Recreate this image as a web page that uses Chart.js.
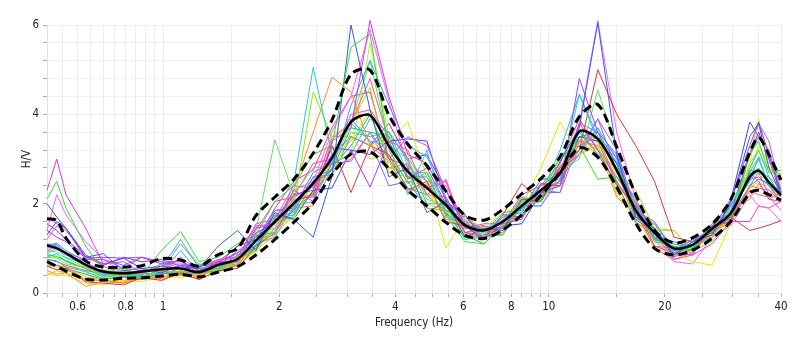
<!DOCTYPE html>
<html lang="en">
<head>
<meta charset="UTF-8">
<title>H/V</title>
<script src="https://cdn.jsdelivr.net/npm/chart.js@4.4.1/dist/chart.umd.min.js"></script>
<style>
    body { margin: 0; background: #fff; }
    canvas { display: block; }
</style>
</head>
<body>

<canvas id="chart" width="800" height="348"></canvas>

<script>

// frequencies (Hz) where every curve is sampled
var freq = [0.50, 0.53, 0.56, 0.63, 0.70, 0.79, 0.88, 0.99, 1.11, 1.24, 1.39,
    1.56, 1.74, 1.95, 2.18, 2.45, 2.74, 3.07, 3.44, 3.85, 4.31,
    4.83, 5.41, 6.06, 6.79, 7.60, 8.51, 9.54, 10.7, 12.0, 13.4,
    15.0, 16.8, 18.8, 21.1, 23.6, 26.5, 29.6, 33.2, 35.0, 37.2, 40];

// x ticks (all get a grid line) and the ones that carry a label
var xTicks = [0.5, 0.55, 0.6, 0.65, 0.7, 0.75, 0.8, 0.85, 0.9, 0.95, 1,
    1.5, 2, 2.5, 3, 3.5, 4, 4.5, 5, 5.5, 6, 6.5, 7, 7.5, 8, 8.5, 9, 9.5, 10,
    15, 20, 25, 30, 35, 40];
var xLabels = [0.6, 0.8, 1, 2, 4, 6, 8, 10, 20, 40];

// average H/V and +/- std curves
var hvMean = [1.07, 1.00, 0.89, 0.63, 0.48, 0.44, 0.48, 0.53, 0.55, 0.47, 0.63,
    0.76, 1.17, 1.60, 2.00, 2.46, 3.02, 3.83, 3.98, 3.29, 2.72,
    2.35, 1.97, 1.52, 1.40, 1.60, 1.95, 2.30, 2.68, 3.62, 3.45,
    2.75, 1.85, 1.35, 1.00, 1.08, 1.44, 1.78, 2.60, 2.74, 2.48, 2.19];
var hvUpper = [1.66, 1.62, 1.23, 0.72, 0.58, 0.58, 0.61, 0.77, 0.74, 0.60, 0.86,
    1.00, 1.73, 2.15, 2.54, 3.13, 3.87, 4.90, 4.99, 3.98, 3.33,
    2.85, 2.28, 1.74, 1.63, 1.87, 2.22, 2.56, 3.05, 3.95, 4.22,
    3.27, 2.21, 1.40, 1.12, 1.24, 1.54, 2.08, 3.15, 3.48, 3.10, 2.53];
var hvLower = [0.70, 0.60, 0.49, 0.31, 0.29, 0.33, 0.34, 0.38, 0.42, 0.36, 0.47,
    0.59, 0.85, 1.20, 1.58, 2.02, 2.65, 3.11, 3.16, 2.78, 2.30,
    1.95, 1.58, 1.29, 1.22, 1.41, 1.75, 2.18, 2.70, 3.25, 3.04,
    2.37, 1.56, 1.00, 0.85, 0.96, 1.22, 1.60, 2.24, 2.30, 2.20, 2.08];

// single windows
var win01 = [2.30, 3.00, 2.20, 1.45, 0.65, 0.70, 0.45, 0.60, 0.75, 0.42, 0.70,
    0.70, 1.45, 1.55, 2.30, 2.05, 3.40, 3.70, 6.10, 4.40, 3.10,
    2.90, 2.10, 1.35, 1.25, 1.75, 1.70, 2.45, 2.40, 3.80, 3.20,
    2.40, 1.95, 1.05, 0.90, 0.85, 1.50, 1.60, 2.70, 2.50, 2.10, 2.05];
var win02 = [2.10, 2.50, 1.90, 1.05, 0.50, 0.55, 0.40, 0.95, 1.38, 0.70, 0.80,
    1.10, 1.30, 2.05, 2.40, 3.10, 3.30, 5.50, 5.80, 3.20, 2.45,
    2.70, 1.75, 1.15, 1.10, 1.50, 2.15, 2.05, 3.10, 3.30, 2.55,
    2.60, 2.00, 1.15, 1.05, 0.95, 1.55, 1.55, 3.10, 3.40, 2.70, 2.75];
var win03 = [2.00, 1.70, 1.45, 0.80, 0.88, 0.50, 0.55, 0.45, 0.62, 0.55, 1.05,
    1.40, 0.95, 1.80, 1.65, 1.25, 2.60, 6.00, 4.10, 2.60, 2.80,
    1.80, 2.05, 1.25, 1.45, 1.40, 2.10, 2.05, 2.95, 3.70, 6.05,
    3.10, 1.70, 1.45, 0.85, 1.15, 1.30, 2.00, 3.50, 3.80, 2.80, 2.20];
var win04 = [0.90, 1.00, 0.80, 0.65, 0.38, 0.48, 0.35, 0.55, 1.20, 0.55, 0.60,
    0.70, 1.30, 1.35, 2.45, 5.05, 3.10, 3.80, 3.40, 3.30, 2.20,
    3.20, 1.70, 1.60, 1.25, 1.70, 1.80, 2.55, 2.60, 4.45, 3.40,
    2.95, 1.65, 1.40, 0.90, 1.15, 1.30, 1.90, 2.50, 3.05, 2.40, 2.30];
var win05 = [0.50, 0.42, 0.45, 0.15, 0.25, 0.22, 0.38, 0.32, 0.48, 0.35, 0.60,
    0.60, 1.20, 1.30, 2.30, 3.60, 4.83, 4.50, 3.30, 2.95, 2.25,
    2.45, 1.65, 1.60, 1.20, 1.65, 1.70, 2.40, 2.45, 3.45, 3.20,
    2.75, 1.55, 1.40, 0.85, 1.15, 1.25, 1.85, 2.10, 2.45, 2.10, 2.25];
var win06 = [0.60, 0.52, 0.55, 0.25, 0.22, 0.18, 0.35, 0.28, 0.45, 0.30, 0.50,
    0.55, 1.05, 1.35, 2.05, 2.20, 3.30, 2.25, 3.30, 3.10, 2.30,
    2.50, 1.60, 1.50, 1.20, 1.75, 2.45, 2.05, 2.80, 3.20, 5.00,
    4.00, 3.30, 2.50, 1.25, 1.15, 1.35, 1.70, 1.40, 1.45, 1.52, 1.62];
var win07 = [1.40, 1.25, 1.15, 0.78, 0.80, 0.78, 0.80, 0.65, 0.72, 0.50, 0.68,
    0.70, 1.35, 1.55, 2.20, 2.30, 3.25, 3.20, 2.37, 3.40, 2.55,
    2.80, 2.00, 1.75, 1.20, 1.55, 1.65, 2.45, 2.40, 4.80, 3.60,
    3.10, 1.70, 1.45, 0.80, 1.15, 1.30, 2.05, 3.30, 3.83, 3.10, 2.25];
var win08 = [0.45, 0.38, 0.40, 0.22, 0.18, 0.28, 0.25, 0.38, 0.35, 0.42, 0.45,
    0.75, 0.90, 1.55, 1.65, 2.50, 2.60, 3.60, 3.30, 3.40, 3.83,
    2.60, 1.00, 1.70, 1.45, 1.80, 1.95, 2.80, 3.83, 3.10, 3.30,
    2.20, 1.75, 1.00, 0.90, 0.70, 0.62, 1.55, 2.90, 3.90, 2.85, 2.40];
var win09 = [0.80, 0.78, 0.65, 0.58, 0.36, 0.40, 0.35, 0.50, 0.45, 0.52, 0.50,
    0.80, 0.95, 1.75, 1.95, 4.50, 3.50, 3.80, 4.60, 2.80, 2.70,
    1.90, 1.85, 1.25, 1.35, 1.35, 2.05, 2.25, 3.00, 3.40, 3.50,
    2.70, 2.30, 1.45, 1.40, 0.95, 1.15, 1.60, 2.90, 3.20, 2.70, 2.60];
var win10 = [1.20, 1.50, 1.40, 0.85, 0.60, 0.40, 0.52, 0.48, 0.80, 0.50, 0.72,
    0.80, 1.55, 1.65, 2.40, 2.35, 3.45, 3.80, 4.80, 3.40, 3.20,
    2.20, 2.55, 1.35, 1.45, 1.45, 2.10, 2.15, 2.85, 3.30, 3.50,
    2.50, 1.85, 1.00, 0.75, 0.90, 1.50, 1.60, 2.30, 2.20, 2.15, 1.85];
var win11 = [1.10, 1.08, 0.90, 0.65, 0.42, 0.45, 0.38, 0.50, 0.45, 0.45, 0.52,
    0.85, 1.05, 1.70, 1.80, 2.60, 2.75, 4.20, 5.20, 4.20, 3.30,
    3.05, 2.15, 1.35, 1.50, 1.45, 1.95, 1.95, 2.55, 3.10, 3.70,
    3.00, 1.75, 1.55, 0.95, 1.20, 1.40, 1.95, 2.60, 3.00, 2.40, 2.15];
var win12 = [0.85, 0.82, 0.72, 0.55, 0.36, 0.42, 0.36, 0.50, 0.46, 0.50, 0.55,
    0.85, 1.00, 1.65, 1.75, 2.45, 2.75, 3.70, 3.60, 3.50, 2.60,
    2.60, 1.85, 1.70, 1.35, 1.80, 1.85, 2.55, 2.55, 3.65, 3.10,
    2.45, 1.95, 1.20, 1.10, 1.00, 1.55, 1.70, 2.75, 2.70, 2.60, 2.15];
var win13 = [1.70, 1.55, 1.45, 0.75, 0.75, 0.55, 0.80, 0.70, 0.70, 0.50, 0.75,
    0.80, 1.50, 1.55, 2.10, 2.15, 2.90, 2.95, 3.60, 3.00, 3.50,
    3.30, 2.30, 1.45, 1.50, 1.35, 2.05, 2.15, 2.75, 3.10, 3.90,
    3.20, 1.85, 1.60, 0.95, 1.20, 1.40, 2.10, 3.10, 3.80, 3.40, 2.30];
var win14 = [0.95, 0.92, 0.78, 0.58, 0.40, 0.44, 0.40, 0.65, 1.10, 0.65, 0.65,
    0.75, 1.40, 3.43, 2.20, 2.80, 2.85, 3.80, 5.20, 3.30, 3.00,
    2.10, 1.95, 1.20, 1.25, 1.30, 1.95, 2.05, 2.75, 3.00, 4.55,
    3.20, 1.75, 1.55, 0.90, 1.10, 1.30, 1.95, 2.70, 3.05, 2.80, 2.65];
var win15 = [1.40, 2.20, 1.75, 1.15, 0.75, 0.45, 0.50, 0.50, 1.10, 0.60, 0.75,
    0.80, 1.35, 1.45, 2.30, 2.50, 3.60, 4.40, 5.90, 4.30, 2.80,
    2.50, 2.40, 1.60, 1.50, 1.40, 1.95, 1.95, 2.65, 3.80, 6.10,
    3.60, 2.10, 1.20, 0.70, 0.65, 1.25, 1.50, 2.20, 1.95, 1.90, 1.60];
var win16 = [1.30, 1.60, 1.45, 0.85, 0.65, 0.78, 0.55, 0.60, 0.55, 0.60, 0.65,
    1.05, 1.20, 1.75, 1.65, 2.30, 2.35, 3.20, 3.10, 3.40, 3.45,
    3.40, 2.05, 1.75, 1.20, 1.50, 1.55, 2.25, 2.40, 3.50, 3.40,
    2.90, 1.65, 1.35, 0.85, 1.15, 1.45, 2.05, 3.83, 3.50, 3.10, 2.25];
var win17 = [0.75, 0.72, 0.58, 0.48, 0.32, 0.35, 0.30, 0.45, 0.95, 0.45, 0.55,
    0.62, 1.10, 1.25, 1.95, 2.05, 2.90, 3.10, 3.90, 3.60, 2.95,
    2.00, 2.00, 1.25, 1.40, 1.45, 2.05, 2.20, 3.20, 4.45, 3.50,
    3.05, 1.75, 1.45, 0.90, 1.20, 1.35, 1.95, 2.80, 3.20, 2.60, 2.35];
var win18 = [0.65, 0.58, 0.58, 0.36, 0.30, 0.26, 0.40, 0.35, 0.50, 0.36, 0.60,
    0.62, 1.20, 1.35, 2.15, 2.20, 3.00, 3.40, 4.10, 2.70, 2.60,
    2.00, 1.85, 1.55, 1.45, 1.35, 2.00, 2.05, 2.65, 3.10, 3.40,
    2.25, 1.85, 1.15, 1.05, 0.90, 1.45, 1.60, 2.70, 2.65, 2.50, 2.15];
var win19 = [0.70, 0.62, 0.58, 0.30, 0.28, 0.24, 0.40, 0.35, 0.50, 0.38, 0.60,
    0.65, 1.30, 1.35, 1.90, 1.95, 2.80, 3.00, 3.60, 2.80, 2.90,
    2.20, 2.15, 1.35, 1.40, 1.35, 2.05, 2.05, 2.85, 3.10, 3.30,
    2.15, 1.75, 1.05, 1.00, 0.90, 1.40, 1.55, 2.40, 2.35, 2.30, 2.05];
var win20 = [1.00, 1.08, 0.90, 0.75, 0.75, 0.62, 0.80, 0.70, 0.55, 0.55, 0.55,
    0.85, 1.05, 1.85, 1.90, 2.70, 2.90, 3.90, 3.40, 2.40, 2.50,
    1.90, 1.85, 1.20, 1.30, 1.30, 1.95, 2.05, 2.65, 3.20, 3.90,
    2.75, 2.10, 1.25, 1.15, 1.00, 1.55, 1.75, 3.10, 3.50, 3.20, 2.25];
var win21 = [0.80, 0.88, 0.70, 0.55, 0.36, 0.40, 0.33, 0.48, 0.44, 0.45, 0.45,
    0.75, 0.95, 1.60, 1.70, 2.50, 2.60, 3.60, 3.50, 3.60, 2.70,
    2.70, 1.95, 1.75, 1.30, 1.75, 1.80, 2.45, 2.45, 3.60, 3.10,
    2.80, 1.65, 1.40, 0.85, 1.05, 1.25, 1.85, 2.50, 2.80, 2.40, 2.25];
var win22 = [0.90, 0.78, 0.74, 0.45, 0.38, 0.28, 0.40, 0.36, 0.50, 0.36, 0.60,
    0.68, 1.20, 1.40, 2.10, 2.15, 2.95, 3.10, 5.60, 3.50, 3.10,
    2.20, 2.05, 1.30, 1.40, 1.30, 1.95, 2.05, 2.75, 3.10, 3.70,
    2.60, 2.05, 1.40, 1.40, 0.95, 1.40, 1.60, 2.70, 3.30, 2.90, 2.65];
var win23 = [0.95, 1.05, 0.85, 0.70, 0.45, 0.50, 0.45, 0.65, 0.65, 0.60, 0.70,
    1.05, 1.40, 2.05, 2.15, 2.90, 3.00, 4.00, 4.10, 3.50, 2.60,
    2.40, 1.75, 1.65, 1.20, 1.65, 1.70, 2.30, 2.25, 3.40, 3.30,
    3.05, 1.75, 1.35, 0.75, 0.85, 1.10, 1.60, 1.60, 1.95, 1.90, 2.05];
var win24 = [1.05, 1.12, 0.95, 0.70, 0.45, 0.50, 0.45, 0.60, 0.55, 0.55, 0.60,
    0.95, 1.20, 1.85, 1.85, 2.60, 2.65, 3.50, 3.30, 3.60, 3.00,
    2.50, 1.85, 1.70, 1.30, 1.70, 1.70, 2.25, 2.25, 3.80, 3.60,
    2.70, 2.05, 1.20, 1.05, 0.95, 1.55, 1.65, 2.40, 2.70, 2.20, 2.10];
var win25 = [0.75, 0.70, 0.62, 0.50, 0.45, 0.36, 0.45, 0.42, 0.55, 0.40, 0.62,
    0.90, 1.15, 1.90, 2.50, 2.75, 3.70, 4.40, 4.50, 3.00, 2.85,
    2.35, 2.50, 1.45, 1.55, 1.55, 2.20, 2.40, 2.90, 3.90, 3.20,
    2.60, 1.95, 1.30, 1.00, 1.05, 1.50, 1.75, 2.55, 2.60, 2.40, 2.05];
var win26 = [0.60, 0.62, 0.55, 0.42, 0.30, 0.38, 0.32, 0.45, 0.40, 0.45, 0.50,
    0.72, 1.00, 1.45, 1.85, 2.25, 2.80, 3.30, 4.00, 3.00, 2.35,
    2.20, 1.80, 1.30, 1.10, 1.50, 1.75, 2.30, 2.50, 3.50, 3.40,
    2.45, 1.60, 1.25, 0.95, 0.95, 1.40, 1.70, 2.40, 2.55, 2.45, 2.30];
var win27 = [0.40, 0.50, 0.45, 0.30, 0.28, 0.22, 0.32, 0.30, 0.42, 0.32, 0.48,
    0.62, 0.95, 1.30, 1.75, 2.30, 3.50, 3.50, 3.00, 3.10, 2.50,
    2.40, 2.00, 1.45, 1.45, 1.55, 2.00, 2.10, 2.80, 3.40, 3.10,
    2.50, 1.80, 1.25, 0.80, 1.00, 1.30, 1.65, 2.35, 2.50, 2.30, 2.15];
var win28 = [1.55, 1.40, 1.20, 0.82, 0.62, 0.80, 0.70, 0.75, 0.60, 0.62, 0.70,
    0.90, 1.25, 1.70, 2.15, 2.40, 3.10, 3.50, 3.30, 3.80, 3.00,
    3.10, 2.30, 1.55, 1.40, 1.45, 1.90, 2.40, 2.70, 3.50, 3.60,
    2.90, 2.00, 1.40, 1.00, 1.05, 1.50, 1.80, 3.10, 3.60, 3.00, 2.20];

var windows = [win01, win02, win03, win04, win05, win06, win07, win08, win09, win10,
    win11, win12, win13, win14, win15, win16, win17, win18, win19, win20,
    win21, win22, win23, win24, win25, win26, win27, win28];
var winColors = ['#d63bd6', '#33dd33', '#3060e0', '#20d0d0', '#ff8a30', '#e03535', '#9a40ff', '#e6e600',
    '#99e600', '#ff4fa8', '#3aa0ff', '#00c890', '#c050ff', '#5ee05e', '#ff60ff', '#4444dd',
    '#20bbee', '#d4d400', '#ff7040', '#7070ff', '#00e0c0', '#b0f030', '#ee44cc', '#5588ff',
    '#ff3399', '#22aa55', '#ffb020', '#8a2be2'];


function toPoints(arr) {
    return freq.map((f, i) => ({x: f, y: arr[i]}));
}

Chart.defaults.font.family = "'DejaVu Sans Condensed', 'Liberation Sans', sans-serif";
Chart.defaults.font.size = 11.5;
Chart.defaults.color = '#222';

var datasets = [
    {data: toPoints(hvMean), borderColor: '#000', borderWidth: 2.5, tension: 0.3, order: 0},
    {data: toPoints(hvUpper), borderColor: '#000', borderWidth: 3, borderDash: [9, 5], tension: 0.3, order: 0},
    {data: toPoints(hvLower), borderColor: '#000', borderWidth: 3, borderDash: [9, 5], tension: 0.3, order: 0},
];
windows.forEach((w, i) => {
    datasets.push({data: toPoints(w), borderColor: winColors[i], borderWidth: 1, tension: 0, order: 1});
});

var ctx = document.getElementById('chart').getContext('2d');
var chart = new Chart(ctx, {
    type: 'line',
    data: {datasets: datasets},
    options: {
        responsive: false,
        animation: false,
        devicePixelRatio: 1,
        layout: {padding: {top: 25, right: 19, left: 0, bottom: 0}},
        elements: {point: {radius: 0}},
        datasets: {line: {clip: 8, fill: false}},
        plugins: {legend: {display: false}, tooltip: {enabled: false}},
        scales: {
            x: {
                type: 'logarithmic',
                min: 0.5,
                max: 40,
                afterBuildTicks: (scale) => {
                    scale.ticks = xTicks.map(v => ({value: v}));
                },
                afterFit: (scale) => { scale.height = 55; },
                ticks: {
                    autoSkip: false,
                    maxRotation: 0,
                    padding: 3,
                    callback: (v) => xLabels.includes(v) ? String(v) : '',
                },
                grid: {color: '#ececec', tickColor: '#b0b0b0', tickLength: 4},
                border: {color: '#e2e2e2'},
                title: {display: true, text: 'Frequency (Hz)', padding: {top: 0, bottom: 18}},
            },
            y: {
                min: 0,
                max: 6,
                afterFit: (scale) => { scale.width = 47; },
                ticks: {
                    stepSize: 0.4,
                    padding: 4,
                    autoSkip: false,
                    callback: (v) => Math.round(v * 10) % 20 === 0 ? String(Math.round(v)) : '',
                },
                grid: {color: '#eeeeee', tickColor: '#b0b0b0', tickLength: 4},
                border: {color: '#e2e2e2'},
                title: {display: true, text: 'H/V', padding: {top: 20, bottom: 0}},
            },
        },
    },
});

</script>

</body>
</html>
